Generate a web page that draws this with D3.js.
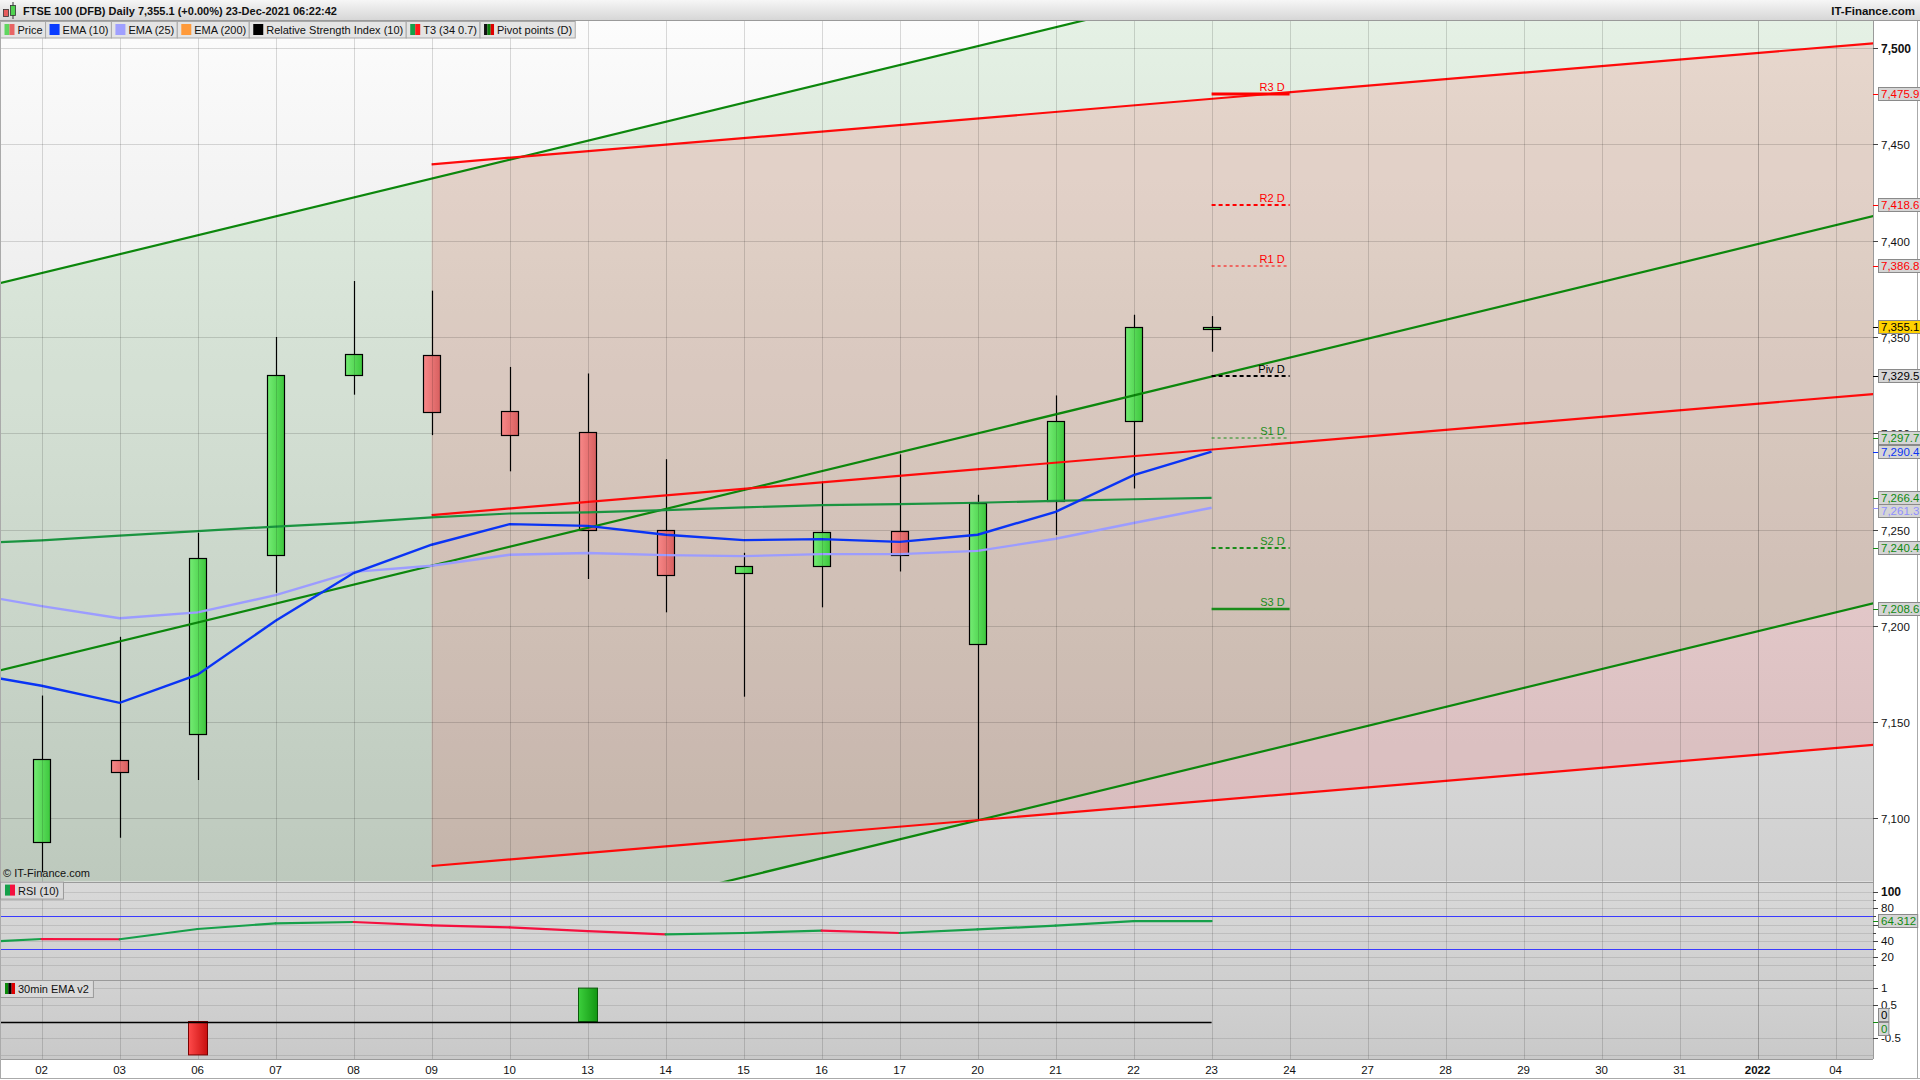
<!DOCTYPE html>
<html><head><meta charset="utf-8">
<script src="https://cdn.jsdelivr.net/npm/d3@7"></script>
<style>
body{margin:0;background:#fff;overflow:hidden}
svg{display:block}
text{font-family:Arial,"Liberation Sans",sans-serif}
</style>
</head><body>
<svg id="c" width="1920" height="1080"></svg>
<script>
// ---------------- DATA ----------------
const axisLabels = ["02","03","06","07","08","09","10","13","14","15","16","17","20","21","22","23","24","27","28","29","30","31","2022","04"];
const candleDays = axisLabels.slice(0,16);
const openP  = [7087.5,7130.1,7143.5,7236.3,7330.0,7340.5,7311.4,7300.5,7249.7,7227.4,7230.8,7249.2,7190.5,7264.9,7306.2,7354.6];
const highP  = [7163.8,7194.3,7248.3,7350.0,7379.0,7374.0,7334.4,7331.0,7286.5,7237.9,7274.8,7289.0,7268.0,7319.6,7361.5,7360.8];
const lowP   = [7072.0,7090.0,7120.0,7217.2,7320.0,7299.0,7280.2,7224.3,7207.0,7163.2,7209.6,7228.2,7099.5,7247.1,7271.3,7342.3];
const closeP = [7130.7,7123.7,7235.0,7330.0,7341.0,7311.0,7299.0,7249.8,7226.3,7231.0,7248.7,7236.5,7263.7,7306.2,7355.1,7355.1];
// line series start one session earlier (01 Dec) so they run in from the left edge
const ema10 = [7176.0,7168.9,7160.0,7174.6,7202.6,7227.4,7242.1,7252.8,7251.9,7247.3,7244.5,7245.0,7243.6,7247.3,7259.2,7278.2,7290.4];
const ema25 = [7217.3,7210.2,7203.9,7207.0,7215.9,7228.0,7231.2,7236.9,7237.8,7236.7,7236.2,7237.2,7237.2,7238.9,7245.2,7253.4,7261.3];
const t3    = [7242.7,7244.4,7246.8,7249.2,7251.5,7253.6,7256.3,7258.3,7258.9,7260.1,7261.5,7262.7,7263.2,7263.9,7264.9,7265.7,7266.4];
const rsi   = [37.4,42.3,42.0,54.6,61.6,63.2,59.1,56.7,52.1,48.1,49.7,52.6,49.7,54.1,58.7,64.3,64.312];
const emaSignal = [0,0,0,-1,0,0,0,0,1,0,0,0,0,0,0,0,0];
// trend channels: values of upper / middle / lower line at anchor session, slope per session
const greenChannel = [7383.1,7182.1,6981.1]; const greenAnchor = 0; const greenSlope = 9.82;
const redChannel   = [7439.6,7257.5,7075.3]; const redAnchor = 5;   const redSlope = 3.40;
// daily pivots (drawn over session 23 -> 24)
const pivotNames  = ["R3 D","R2 D","R1 D","Piv D","S1 D","S2 D","S3 D"];
const pivotValues = [7475.9,7418.6,7386.8,7329.5,7297.7,7240.4,7208.6];
const priceTicks = [7100,7150,7200,7250,7300,7350,7400,7450,7500];
const rsiTicks = [100,80,40,20];
const sigTicks = [1,0.5,-0.5];

// ---------------- LAYOUT ----------------
const svg = d3.select("#c");
const plotR = 1873, mainT = 21, mainB = 881.6, rsiB = 980, botB = 1059;
const x = d3.scaleLinear().domain([0,23]).range([41.6,1835.6]);
const y = d3.scaleLinear().domain([7067.2,7514]).range([mainB,mainT]);
const yR = d3.scaleLinear().domain([0,100]).range([973.5,892]);
const yB = d3.scaleLinear().domain([-1,1]).range([1054.9,988.1]);
const xl = i => x(i-1); // index for series starting at 01 Dec

const defs = svg.append("defs");
function vgrad(id, stops, y1, y2){
  const g = defs.append("linearGradient").attr("id",id).attr("x1",0).attr("x2",0);
  if (y1!==undefined){ g.attr("gradientUnits","userSpaceOnUse").attr("y1",y1).attr("y2",y2); } else { g.attr("y1",0).attr("y2",1); }
  stops.forEach((c,k)=>g.append("stop").attr("offset",k/(stops.length-1)).attr("stop-color",c));
}
function hgrad(id, stops){
  const g = defs.append("linearGradient").attr("id",id).attr("x1",0).attr("x2",1).attr("y1",0).attr("y2",0);
  stops.forEach((c,k)=>g.append("stop").attr("offset",k/(stops.length-1)).attr("stop-color",c));
}
vgrad("bgMain",["#fcfcfc","#d0d0d0"],mainT,mainB);
vgrad("bgRsi",["#d9d9d9","#cfcfcf"],mainB,rsiB);
vgrad("bgBot",["#d2d2d2","#c9c9c9"],rsiB,botB);
vgrad("hdr",["#f6f6f6","#d5d5d5"]);
hgrad("cG",["#74ec74","#3dc73d"]);
hgrad("cR",["#f88888","#d75f5f"]);
hgrad("bR",["#ff4a4a","#c80f0f"]);
hgrad("bG",["#3ccf3c","#129612"]);
defs.append("clipPath").attr("id","clipMain").append("rect").attr("x",0).attr("y",mainT).attr("width",plotR).attr("height",mainB-mainT);
defs.append("clipPath").attr("id","clipRsi").append("rect").attr("x",0).attr("y",mainB).attr("width",plotR).attr("height",rsiB-mainB);
defs.append("clipPath").attr("id","clipBot").append("rect").attr("x",0).attr("y",rsiB).attr("width",plotR).attr("height",botB-rsiB);

// backgrounds
svg.append("rect").attr("x",0).attr("y",0).attr("width",1920).attr("height",1080).attr("fill","#fff");
svg.append("rect").attr("x",0).attr("y",mainT).attr("width",plotR).attr("height",mainB-mainT).attr("fill","url(#bgMain)");
svg.append("rect").attr("x",0).attr("y",mainB).attr("width",plotR).attr("height",rsiB-mainB).attr("fill","url(#bgRsi)");
svg.append("rect").attr("x",0).attr("y",rsiB).attr("width",plotR).attr("height",botB-rsiB).attr("fill","url(#bgBot)");

const main = svg.append("g").attr("clip-path","url(#clipMain)");
// channel fills
const iL = -0.8, iR = 23.8;
const chan = (base,anchor,slope,i) => base + slope*(i-anchor);
main.append("path").attr("fill","rgba(0,128,0,0.09)")
  .attr("d", d3.line()([[x(iL),y(chan(greenChannel[0],greenAnchor,greenSlope,iL))],[x(iR),y(chan(greenChannel[0],greenAnchor,greenSlope,iR))],
    [x(iR),y(chan(greenChannel[2],greenAnchor,greenSlope,iR))],[x(iL),y(chan(greenChannel[2],greenAnchor,greenSlope,iL))]])+"Z");
main.append("path").attr("fill","rgba(255,30,40,0.12)")
  .attr("d", d3.line()([[x(redAnchor),y(redChannel[0])],[x(iR),y(chan(redChannel[0],redAnchor,redSlope,iR))],
    [x(iR),y(chan(redChannel[2],redAnchor,redSlope,iR))],[x(redAnchor),y(redChannel[2])]])+"Z");

// grid
const gridC = "rgba(0,0,0,0.14)";
main.selectAll(".hg").data(priceTicks).join("line").attr("x1",0).attr("x2",plotR)
  .attr("y1",d=>Math.round(y(d))+0.5).attr("y2",d=>Math.round(y(d))+0.5).attr("stroke",gridC);
const rsiG = svg.append("g").attr("clip-path","url(#clipRsi)");
rsiG.selectAll("line").data(d3.range(10,101,10).filter(v=>v!==70&&v!==30)).join("line").attr("x1",0).attr("x2",plotR)
  .attr("y1",d=>Math.round(yR(d))+0.5).attr("y2",d=>Math.round(yR(d))+0.5).attr("stroke","rgba(0,0,0,0.1)");
const botG = svg.append("g").attr("clip-path","url(#clipBot)");
botG.selectAll("line").data([1,0.5,-0.5,-1]).join("line").attr("x1",0).attr("x2",plotR)
  .attr("y1",d=>Math.round(yB(d))+0.5).attr("y2",d=>Math.round(yB(d))+0.5).attr("stroke","rgba(0,0,0,0.1)");
svg.append("g").selectAll("line").data(axisLabels).join("line")
  .attr("x1",(d,i)=>Math.round(x(i))+0.5).attr("x2",(d,i)=>Math.round(x(i))+0.5).attr("y1",mainT).attr("y2",botB)
  .attr("stroke",d=>d==="2022"?"rgba(0,0,0,0.24)":gridC);

// candles
const cw = 17;
const cg = main.append("g");
candleDays.forEach((d,i)=>{
  const up = closeP[i] >= openP[i];
  const cx = Math.round(x(i))+0.5;
  cg.append("line").attr("x1",cx).attr("x2",cx).attr("y1",y(highP[i])).attr("y2",y(lowP[i])).attr("stroke","#000").attr("stroke-width",1.2);
  const top = y(Math.max(openP[i],closeP[i])), bot = y(Math.min(openP[i],closeP[i]));
  const h = Math.max(2, bot-top);
  cg.append("rect").attr("x",Math.round(x(i)-cw/2)+0.5).attr("y",Math.round(top)+0.5).attr("width",cw).attr("height",Math.round(h))
    .attr("fill",up?"url(#cG)":"url(#cR)").attr("stroke","#000").attr("stroke-width",1.2);
});

// trend lines
greenChannel.forEach(b=>{
  main.append("line").attr("x1",x(iL)).attr("y1",y(chan(b,greenAnchor,greenSlope,iL))).attr("x2",x(iR)).attr("y2",y(chan(b,greenAnchor,greenSlope,iR)))
    .attr("stroke","#0c870c").attr("stroke-width",2.2);
});
redChannel.forEach(b=>{
  main.append("line").attr("x1",x(redAnchor)).attr("y1",y(b)).attr("x2",x(iR)).attr("y2",y(chan(b,redAnchor,redSlope,iR)))
    .attr("stroke","#ff0a0a").attr("stroke-width",2.2);
});
// indicators
const ln = d3.line().x((d,i)=>xl(i)).y(d=>y(d));
main.append("path").attr("d",ln(t3)).attr("fill","none").attr("stroke","#1a9440").attr("stroke-width",2.2);
main.append("path").attr("d",ln(ema25)).attr("fill","none").attr("stroke","#9c9cff").attr("stroke-width",2.4);
main.append("path").attr("d",ln(ema10)).attr("fill","none").attr("stroke","#0a34f5").attr("stroke-width",2.4);

// pivots
const pivCol = ["#ff0000","#ff0000","#ff0000","#000","#1a8c1a","#1a8c1a","#1a8c1a"];
const pivW = [3,2,1,2,1,2,2.5];
const pivDash = [null,"4,3","3,3","4,3","3,3","4,3",null];
const pg = svg.append("g");
pivotValues.forEach((v,k)=>{
  const yy = Math.round(y(v));
  pg.append("line").attr("x1",x(15)).attr("x2",x(16)).attr("y1",yy).attr("y2",yy)
    .attr("stroke",pivCol[k]).attr("stroke-width",pivW[k]).attr("stroke-dasharray",pivDash[k]);
  pg.append("text").attr("x",x(16)-5).attr("y",yy-3).attr("text-anchor","end").attr("font-size",11)
    .attr("fill",pivCol[k]).text(pivotNames[k]);
});
svg.append("text").attr("x",3).attr("y",877).attr("font-size",11).attr("fill","#111").text("© IT-Finance.com");

// RSI
const rg = svg.append("g").attr("clip-path","url(#clipRsi)");
[70,30].forEach(v=>rg.append("line").attr("x1",0).attr("x2",plotR).attr("y1",Math.round(yR(v))+0.5).attr("y2",Math.round(yR(v))+0.5).attr("stroke","#3a3aff").attr("stroke-width",1));
for (let i=1;i<rsi.length;i++){
  rg.append("line").attr("x1",xl(i-1)).attr("y1",yR(rsi[i-1])).attr("x2",xl(i)).attr("y2",yR(rsi[i]))
    .attr("stroke",rsi[i]>=rsi[i-1]?"#16a04a":"#f5103f").attr("stroke-width",2.2).attr("stroke-linecap","round");
}

// 30min EMA v2 panel
const bg2 = svg.append("g").attr("clip-path","url(#clipBot)");
emaSignal.forEach((v,i)=>{
  if (v===0) return;
  const y0 = yB(0), y1 = yB(v);
  bg2.append("rect").attr("x",Math.round(xl(i)-9.5)+0.5).attr("y",Math.min(y0,y1)).attr("width",19).attr("height",Math.abs(y1-y0))
    .attr("fill",v>0?"url(#bG)":"url(#bR)").attr("stroke",v>0?"#0a5a0a":"#7a0000").attr("stroke-width",1);
});
bg2.append("line").attr("x1",xl(0)).attr("x2",xl(emaSignal.length-1)).attr("y1",Math.round(yB(0))+0.5).attr("y2",Math.round(yB(0))+0.5)
  .attr("stroke","#000").attr("stroke-width",1.5);

// panel separators & borders
[mainB, rsiB, botB].forEach(yy=>svg.append("line").attr("x1",0).attr("x2",plotR).attr("y1",Math.round(yy)+0.5).attr("y2",Math.round(yy)+0.5).attr("stroke","#9a9a9a"));
svg.append("line").attr("x1",plotR+0.5).attr("x2",plotR+0.5).attr("y1",mainT).attr("y2",botB).attr("stroke","#9a9a9a");
svg.append("line").attr("x1",0.5).attr("x2",0.5).attr("y1",mainT).attr("y2",1079).attr("stroke","#aaa");
svg.append("line").attr("x1",1917.5).attr("x2",1917.5).attr("y1",mainT).attr("y2",1079).attr("stroke","#aaa");
svg.append("line").attr("x1",0).attr("x2",1920).attr("y1",1078.5).attr("y2",1078.5).attr("stroke","#aaa");

// right axis: price
const ax = svg.append("g");
priceTicks.forEach(v=>{
  const yy = Math.round(y(v))+0.5;
  ax.append("line").attr("x1",plotR).attr("x2",plotR+5).attr("y1",yy).attr("y2",yy).attr("stroke","#444");
  ax.append("text").attr("x",plotR+8).attr("y",yy+4).attr("font-size",v===7500?12:11.5).attr("font-weight",v===7500?"bold":"normal")
    .attr("fill","#111").text(d3.format(",")(v));
});
// value boxes
const f1 = d3.format(",.1f");
const boxes = [
  ...pivotValues.map((v,k)=>({v, y:y(v), c:pivCol[k]==="#1a8c1a"?"#118a11":pivCol[k], fill:"#d5d5d5", t:f1(v)})),
  {v:ema10[ema10.length-1], y:y(ema10[ema10.length-1]), c:"#0a34f5", fill:"#d5d5d5", t:f1(ema10[ema10.length-1])},
  {v:ema25[ema25.length-1], y:y(ema25[ema25.length-1]), c:"#8f8fff", fill:"#d5d5d5", t:f1(ema25[ema25.length-1])},
  {v:t3[t3.length-1], y:y(t3[t3.length-1]), c:"#118a11", fill:"#d5d5d5", t:f1(t3[t3.length-1])},
  {v:closeP[closeP.length-1], y:y(closeP[closeP.length-1]), c:"#000", fill:"#ffd200", t:f1(closeP[closeP.length-1])}
].sort((a,b)=>a.y-b.y);
for (let k=1;k<boxes.length;k++){ if (boxes[k].y - boxes[k-1].y < 13.5) boxes[k].y = boxes[k-1].y + 13.5; }
function valueBox(b, tickY){
  ax.append("line").attr("x1",plotR).attr("x2",plotR+5).attr("y1",Math.round(tickY)+0.5).attr("y2",Math.round(tickY)+0.5).attr("stroke",b.c);
  const t = ax.append("text").attr("x",plotR+8).attr("y",Math.round(b.y)+4).attr("font-size",11.5).attr("fill",b.c).text(b.t);
  const w = t.node().getComputedTextLength();
  ax.insert("rect","text:last-of-type").attr("x",plotR+5.5).attr("y",Math.round(b.y)-6.5).attr("width",w+4).attr("height",13)
    .attr("fill",b.fill).attr("stroke","#8a8a8a");
  t.raise();
}
boxes.forEach(b=>valueBox(b, y(b.v)));
// RSI axis
d3.range(10,101,10).forEach(v=>ax.append("line").attr("x1",plotR).attr("x2",plotR+(v%20===0?5:3)).attr("y1",Math.round(yR(v))+0.5).attr("y2",Math.round(yR(v))+0.5).attr("stroke","#444"));
rsiTicks.forEach(v=>ax.append("text").attr("x",plotR+8).attr("y",Math.round(yR(v))+4).attr("font-size",v===100?12:11.5)
  .attr("font-weight",v===100?"bold":"normal").attr("fill","#111").text(v));
valueBox({v:rsi[rsi.length-1], y:yR(rsi[rsi.length-1]), c:"#118a11", fill:"#d5d5d5", t:d3.format(".3f")(rsi[rsi.length-1])}, yR(rsi[rsi.length-1]));
// signal axis
sigTicks.forEach(v=>{
  ax.append("line").attr("x1",plotR).attr("x2",plotR+5).attr("y1",Math.round(yB(v))+0.5).attr("y2",Math.round(yB(v))+0.5).attr("stroke","#444");
  ax.append("text").attr("x",plotR+8).attr("y",Math.round(yB(v))+4).attr("font-size",11.5).attr("fill","#111").text(v);
});
valueBox({v:0, y:yB(0)-7, c:"#000", fill:"#d5d5d5", t:"0"}, yB(0));
valueBox({v:0, y:yB(0)+7, c:"#118a11", fill:"#d5d5d5", t:"0"}, yB(0));

// bottom date axis
svg.append("g").selectAll("text").data(axisLabels).join("text")
  .attr("x",(d,i)=>x(i)).attr("y",1074).attr("text-anchor","middle").attr("font-size",11.5)
  .attr("font-weight",d=>d==="2022"?"bold":"normal").attr("fill","#111").text(d=>d);

// panel labels
function panelLabel(y0, txt, cols){
  const g = svg.append("g");
  const t = g.append("text").attr("x",18).attr("y",y0+13).attr("font-size",11).attr("fill","#111").text(txt);
  const w = t.node().getComputedTextLength();
  g.insert("rect","text").attr("x",0.5).attr("y",y0+0.5).attr("width",w+22).attr("height",17).attr("fill","#dadada").attr("stroke","#9a9a9a");
  const iw = 10/cols.length;
  cols.forEach((c,k)=>g.append("rect").attr("x",5+k*iw).attr("y",y0+3).attr("width",iw).attr("height",11).attr("fill",c));
}
panelLabel(mainB, "RSI (10)", ["#14a04a","#f5103f"]);
panelLabel(rsiB, "30min EMA v2", ["#0a8a0a","#000","#e00000"]);

// header
svg.append("rect").attr("x",0).attr("y",0).attr("width",1920).attr("height",21).attr("fill","url(#hdr)");
svg.append("line").attr("x1",0).attr("x2",1920).attr("y1",20.5).attr("y2",20.5).attr("stroke","#9a9a9a");
svg.append("rect").attr("x",3.5).attr("y",9.5).attr("width",5).attr("height",7).attr("fill","#e65a5a").attr("stroke","#333").attr("stroke-width",0.8);
svg.append("line").attr("x1",13).attr("x2",13).attr("y1",2).attr("y2",19).attr("stroke","#333");
svg.append("rect").attr("x",10.5).attr("y",5.5).attr("width",5).attr("height",10).attr("fill","#4fd24f").attr("stroke","#333").attr("stroke-width",0.8);
svg.append("text").attr("x",23).attr("y",15).attr("font-size",11).attr("font-weight","bold").attr("fill","#111")
  .text("FTSE 100 (DFB) Daily 7,355.1 (+0.00%) 23-Dec-2021 06:22:42");
svg.append("text").attr("x",1915).attr("y",15).attr("text-anchor","end").attr("font-size",11.5).attr("font-weight","bold").attr("fill","#111").text("IT-Finance.com");

// legend
const legendItems = [
  {name:"Price", cols:["#5fd65f","#e86464"]},
  {name:"EMA (10)", cols:["#0a3cff"]},
  {name:"EMA (25)", cols:["#a0a0ff"]},
  {name:"EMA (200)", cols:["#ff9a3a"]},
  {name:"Relative Strength Index (10)", cols:["#000"]},
  {name:"T3 (34 0.7)", cols:["#14a04a","#ff1a1a"]},
  {name:"Pivot points (D)", cols:["#111","#0a7a0a","#e00000"]}
];
let lx = 0.5;
const lg = svg.append("g");
legendItems.forEach(it=>{
  const g = lg.append("g");
  const t = g.append("text").attr("x",lx+17).attr("y",34).attr("font-size",11).attr("fill","#111").text(it.name);
  const w = t.node().getComputedTextLength();
  g.insert("rect","text").attr("x",lx).attr("y",21.5).attr("width",w+20).attr("height",16.5).attr("fill","#e4e4e4").attr("stroke","#a8a8a8");
  const iw = 10/it.cols.length;
  it.cols.forEach((c,k)=>g.append("rect").attr("x",lx+4+k*iw).attr("y",24).attr("width",iw).attr("height",11).attr("fill",c));
  lx += w+20;
});
</script>
</body></html>
